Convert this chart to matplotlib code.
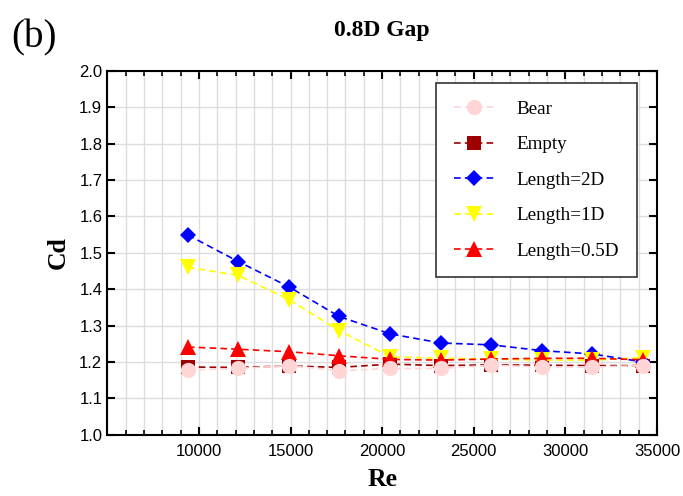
import numpy as np
import matplotlib
matplotlib.use('Agg')
import matplotlib.pyplot as plt
from matplotlib.ticker import MultipleLocator, FormatStrFormatter

# Re values and drag coefficients
re = [9400, 12150, 14930, 17650, 20450, 23200, 25950, 28730, 31450, 34250]
cd_bear = [1.178, 1.182, 1.190, 1.176, 1.182, 1.182, 1.191, 1.186, 1.186, 1.190]
cd_empty = [1.186, 1.185, 1.189, 1.185, 1.194, 1.190, 1.192, 1.191, 1.190, 1.190]
cd_len2 = [1.549, 1.476, 1.406, 1.325, 1.277, 1.252, 1.247, 1.231, 1.222, 1.200]
cd_len1 = [1.460, 1.438, 1.371, 1.286, 1.214, 1.210, 1.208, 1.205, 1.205, 1.212]
cd_len05 = [1.241, 1.235, 1.228, 1.217, 1.207, 1.205, 1.208, 1.210, 1.210, 1.206]

# name, values, colour, marker, size, zorder (bear circles sit on top)
series = [
    ('Bear', cd_bear, '#FFD5D5', 'o', 11, 7),
    ('Empty', cd_empty, '#9E0000', 's', 10, 3),
    ('Length=2D', cd_len2, '#0000FF', 'D', 8, 4),
    ('Length=1D', cd_len1, '#FFFF00', 'v', 11, 5),
    ('Length=0.5D', cd_len05, '#FF0000', '^', 11, 6),
]

serif = ['Liberation Serif', 'DejaVu Serif']
plt.rcParams['font.family'] = ['Liberation Sans', 'DejaVu Sans']

fig = plt.figure(figsize=(6.83, 4.96), dpi=100)
ax = fig.add_axes([0.157, 0.1236, 0.805, 0.7334])

for name, vals, col, mk, ms, z in series:
    ax.plot(re, vals, linestyle='--', dashes=(4, 2.5), color=col, marker=mk,
            markersize=ms, markeredgewidth=0, linewidth=1.2, label=name, zorder=z)

ax.set_xlim(5000, 35000)
ax.set_ylim(1.0, 2.0)
ax.xaxis.set_minor_locator(MultipleLocator(1000))
ax.set_xticks([10000, 15000, 20000, 25000, 30000, 35000])
ax.yaxis.set_major_locator(MultipleLocator(0.1))
ax.yaxis.set_major_formatter(FormatStrFormatter('%.1f'))

ax.grid(True, which='both', color='#DDDDDD', linewidth=1)
ax.set_axisbelow(True)
ax.tick_params(which='both', direction='in', top=True, right=True, labelsize=12)
ax.tick_params(which='major', length=6, width=1.5)
ax.tick_params(which='minor', length=3.5, width=1.2)
ax.tick_params(axis='x', pad=7)
for sp in ax.spines.values():
    sp.set_linewidth(1.5)

ax.set_xlabel('Re', fontsize=18.5, fontweight='bold', family=serif, labelpad=6)
ax.set_ylabel('Cd', fontsize=18.5, fontweight='bold', family=serif, labelpad=7)
ax.set_title('0.8D Gap', fontsize=17, fontweight='bold', family=serif, pad=25)
fig.text(0.016, 0.905, '(b)', fontsize=28, family=serif)

leg = ax.legend(loc='upper right', bbox_to_anchor=(0.963, 0.967), prop={'family': serif, 'size': 13.8},
                fancybox=False, edgecolor='#333333', framealpha=1,
                labelspacing=0.95, handlelength=2.1, handletextpad=1.2,
                borderpad=0.9, borderaxespad=0)
leg.get_frame().set_linewidth(1.2)

fig.savefig('out.png', dpi=100)
